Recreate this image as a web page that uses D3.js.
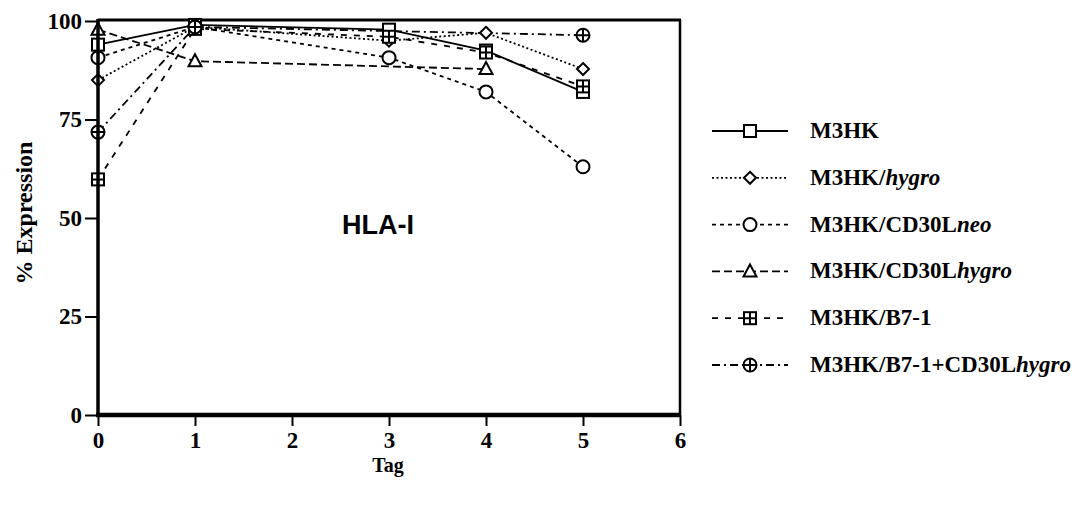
<!DOCTYPE html>
<html><head><meta charset="utf-8">
<script src="https://cdn.jsdelivr.net/npm/d3@7"></script>
<style>body{margin:0;background:#fff}svg{display:block}</style>
</head><body><svg id="c" width="1081" height="509"></svg>
<script>
const days = [0,1,2,3,4,5,6];
const yTicks = [0,25,50,75,100];
const seriesNames = ["M3HK","M3HK/hygro","M3HK/CD30Lneo","M3HK/CD30Lhygro","M3HK/B7-1","M3HK/B7-1+CD30Lhygro"];
const m3hkX = [0,1,3,4,5];           const m3hkY = [94,99,97.8,92.5,82];
const hygroX = [0,1,3,4,5];          const hygroY = [85,98.5,95,97,87.8];
const neoX = [0,1,3,4,5];            const neoY = [90.7,98.5,90.7,82,63];
const cdHygroX = [0,1,4];            const cdHygroY = [97.8,89.8,87.8];
const b71X = [0,1,3,4,5];            const b71Y = [59.8,98,96,92,83.4];
const b71cdX = [0,1,5];              const b71cdY = [71.8,98.5,96.4];

const svg = d3.select("#c");
const x = d3.scaleLinear().domain([0,6]).range([98,680]);
const y = d3.scaleLinear().domain([0,100]).range([415,21]);
const serif = "'Liberation Serif','Times New Roman',serif";

const series = [
  {name:"M3HK", xs:m3hkX, ys:m3hkY, dash:null, sym:"square"},
  {name:"M3HK/hygro", xs:hygroX, ys:hygroY, dash:"2,2.5", sym:"diamond"},
  {name:"M3HK/CD30Lneo", xs:neoX, ys:neoY, dash:"4,4", sym:"circle"},
  {name:"M3HK/CD30Lhygro", xs:cdHygroX, ys:cdHygroY, dash:"8,4", sym:"triangle"},
  {name:"M3HK/B7-1", xs:b71X, ys:b71Y, dash:"6,7", sym:"sqplus"},
  {name:"M3HK/B7-1+CD30Lhygro", xs:b71cdX, ys:b71cdY, dash:"8,4,2,4", sym:"cplus"}
];
const labelParts = [
  [["M3HK",false]],
  [["M3HK/",false],["hygro",true]],
  [["M3HK/CD30L",false],["neo",true]],
  [["M3HK/CD30L",false],["hygro",true]],
  [["M3HK/B7-1",false]],
  [["M3HK/B7-1+CD30L",false],["hygro",true]]
];

function marker(g, sym, cx, cy){
  const s = g.append("g").attr("transform",`translate(${cx},${cy})`)
    .attr("fill","#fff").attr("stroke","#000").attr("stroke-width",2);
  const h = 6;
  if(sym==="square"){ s.append("rect").attr("x",-h).attr("y",-h).attr("width",2*h).attr("height",2*h); }
  else if(sym==="diamond"){ s.append("path").attr("d",`M0,-6L6,0L0,6L-6,0Z`); }
  else if(sym==="circle"){ s.append("circle").attr("r",6.5); }
  else if(sym==="triangle"){ s.append("path").attr("d",`M0,-7L6.5,5L-6.5,5Z`); }
  else if(sym==="sqplus"){ s.append("rect").attr("x",-h).attr("y",-h).attr("width",2*h).attr("height",2*h);
    s.append("path").attr("d",`M0,-${h}V${h}M-${h},0H${h}`); }
  else if(sym==="cplus"){ s.append("circle").attr("r",6.5);
    s.append("path").attr("d",`M0,-6.5V6.5M-6.5,0H6.5`); }
}

// frame
svg.append("line").attr("x1",98).attr("x2",681).attr("y1",20).attr("y2",20).attr("stroke","#000").attr("stroke-width",3);
svg.append("line").attr("x1",680).attr("x2",680).attr("y1",20).attr("y2",415).attr("stroke","#000").attr("stroke-width",2.5);

// lines
const line = d3.line().x(d=>x(d[0])).y(d=>y(d[1]));
series.forEach(s=>{
  const pts = s.xs.map((v,i)=>[v,s.ys[i]]);
  svg.append("path").attr("d",line(pts)).attr("fill","none").attr("stroke","#000")
    .attr("stroke-width",1.8).attr("stroke-dasharray",s.dash);
});
series.forEach(s=>{
  s.xs.forEach((v,i)=>marker(svg,s.sym,x(v),y(s.ys[i])));
});

// axes
const yAxis = svg.append("g").attr("transform","translate(98,0)")
  .call(d3.axisLeft(y).tickValues(yTicks).tickFormat(d3.format("d")).tickSize(13).tickPadding(3));
const xAxis = svg.append("g").attr("transform","translate(0,415)")
  .call(d3.axisBottom(x).tickValues(days).tickFormat(d3.format("d")).tickSize(11).tickPadding(6));
[yAxis,xAxis].forEach(a=>{
  a.attr("font-size",null).attr("font-family",null);
  a.select(".domain").remove();
  a.selectAll(".tick line").attr("stroke","#000").attr("stroke-width",2);
  a.selectAll(".tick text").attr("fill","#000").attr("font-family",serif)
    .attr("font-weight","bold").attr("font-size",23);
});
svg.append("line").attr("x1",98).attr("x2",98).attr("y1",19).attr("y2",417).attr("stroke","#000").attr("stroke-width",3.5);
svg.append("line").attr("x1",96).attr("x2",681).attr("y1",415).attr("y2",415).attr("stroke","#000").attr("stroke-width",4.5);

// axis titles
svg.append("text").attr("x",388).attr("y",472).attr("text-anchor","middle")
  .attr("font-family",serif).attr("font-weight","bold").attr("font-size",20).text("Tag");
svg.append("text").attr("transform","translate(32,213) rotate(-90)").attr("text-anchor","middle")
  .attr("font-family",serif).attr("font-weight","bold").attr("font-size",24).text("% Expression");
svg.append("text").attr("x",378).attr("y",234).attr("text-anchor","middle")
  .attr("font-family","'Liberation Sans',Arial,sans-serif").attr("font-weight","bold").attr("font-size",27).text("HLA-I");

// legend
const lg = svg.append("g");
series.forEach((s,i)=>{
  const ly = 131 + i*46.8;
  lg.append("line").attr("x1",712).attr("x2",788).attr("y1",ly).attr("y2",ly)
    .attr("stroke","#000").attr("stroke-width",1.8).attr("stroke-dasharray",s.dash);
  marker(lg,s.sym,750,ly);
  const t = lg.append("text").attr("x",810).attr("y",ly+7)
    .attr("font-family",serif).attr("font-weight","bold").attr("font-size",23);
  labelParts[i].forEach(p=>{
    t.append("tspan").text(p[0]).attr("font-style",p[1]?"italic":"normal");
  });
});
</script></body></html>
